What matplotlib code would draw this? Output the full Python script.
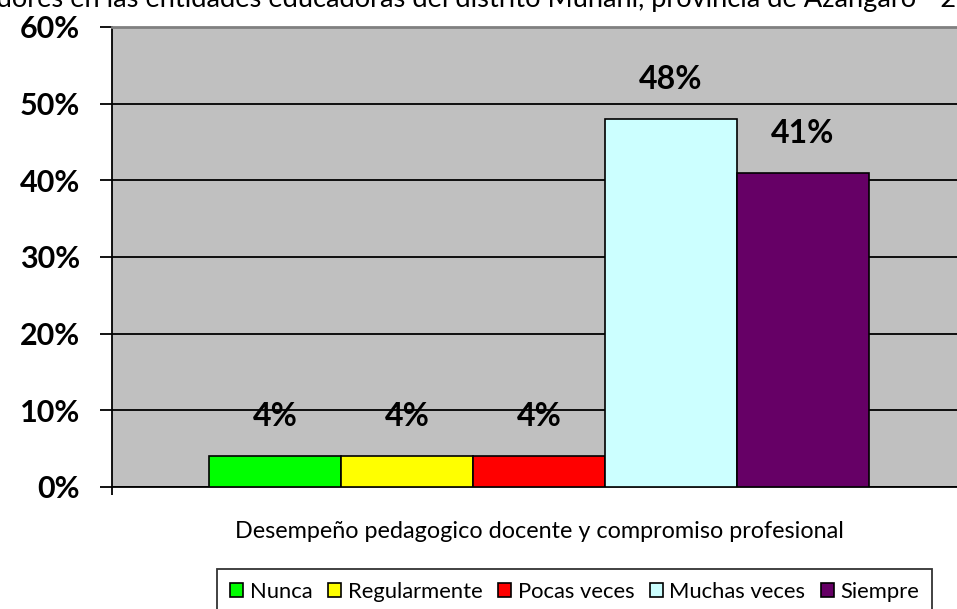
import matplotlib
matplotlib.use('Agg')
import matplotlib.pyplot as plt
from matplotlib.patches import Patch

categorias = ['Nunca', 'Regularmente', 'Pocas veces', 'Muchas veces', 'Siempre']
porcentajes = [4, 4, 4, 48, 41]
colores = ['#00FF00', '#FFFF00', '#FF0000', '#CCFFFF', '#660066']
yticks = [0, 10, 20, 30, 40, 50, 60]
xlabel = 'Desempeño pedagogico docente y compromiso profesional'
titulo_prefijo = 'Desempeño pedagógico de los educa'
titulo_resto = 'dores en las entidades educadoras del distrito Muñani, provincia de Azángaro - 2012'

plt.rcParams['font.family'] = ['Lato', 'DejaVu Sans']

fig = plt.figure(figsize=(9.57, 6.09), dpi=100)
ax = fig.add_axes([112 / 957, 1 - 487 / 609, 855 / 957, 460 / 609])
ax.set_facecolor('#C0C0C0')

x = list(range(len(categorias)))
ax.bar(x, porcentajes, width=1.0, color=colores, edgecolor='black', linewidth=1.2, zorder=3)
for xi, v in zip(x, porcentajes):
    ax.annotate('%d%%' % v, (xi, v), xytext=(0, 18), textcoords='offset points',
                ha='center', va='bottom', fontsize=23, fontweight='bold', zorder=4)

ax.set_ylim(0, 60)
ax.set_xlim(-1.235, 5.242)
ax.set_yticks(yticks)
ax.set_yticklabels(['%d%%' % t for t in yticks], fontsize=22, fontweight='bold')
ax.yaxis.grid(True, color='black', linewidth=1.3, zorder=1)
ax.set_xticks([-1.235])
ax.set_xticklabels([''])
ax.tick_params(axis='y', length=9, width=1.3, pad=14)
ax.tick_params(axis='x', length=6, width=1.3)
for s in ['left', 'bottom']:
    ax.spines[s].set_linewidth(1.3)
ax.spines['top'].set_color('#808080')
ax.spines['top'].set_linewidth(2)
ax.spines['right'].set_visible(False)

fig.text(539 / 957, 1 - 532 / 609, xlabel, ha='center', va='center', fontsize=16.8)

# titulo cortado por los bordes de la imagen
tsize = 19.6
r = fig.canvas.get_renderer()
tmp = fig.text(0, 0, titulo_prefijo, fontsize=tsize)
w = tmp.get_window_extent(r).width
tmp.remove()
fig.text(-w / 957 - 3 / 957, 1 - 7 / 609, titulo_prefijo + titulo_resto,
         ha='left', va='baseline', fontsize=tsize)

handles = [Patch(facecolor=c, edgecolor='black', linewidth=1.2) for c in colores]
leg = fig.legend(handles, categorias, loc='upper left', bbox_to_anchor=(217 / 957, 1 - 569 / 609),
                 ncol=5, fontsize=15.8, frameon=True, fancybox=False, edgecolor='black',
                 handlelength=0.6, handleheight=0.6, handletextpad=0.3, columnspacing=0.7,
                 borderpad=0.6, borderaxespad=0)
leg.get_frame().set_linewidth(1.3)

fig.savefig('out.png', dpi=100)
